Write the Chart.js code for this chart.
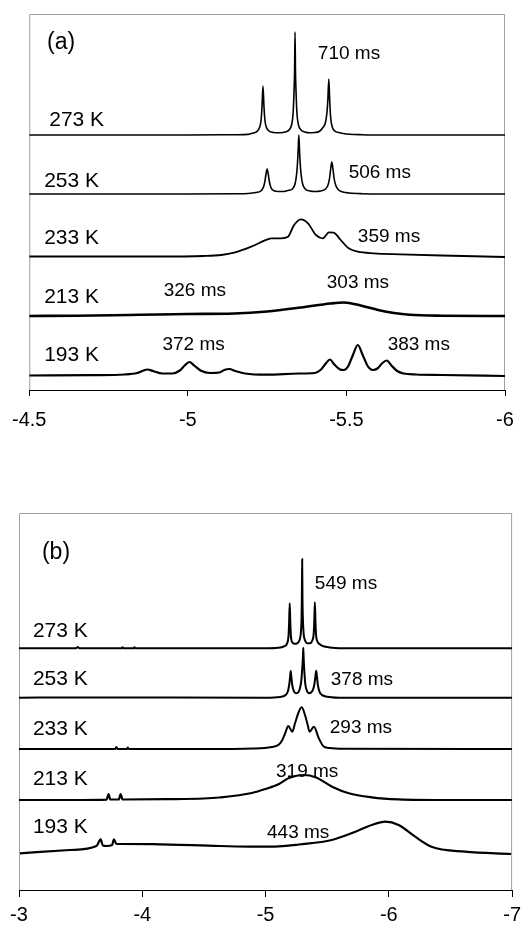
<!DOCTYPE html>
<html>
<head>
<meta charset="utf-8">
<script src="https://cdn.jsdelivr.net/npm/chart.js@4.4.1/dist/chart.umd.min.js"></script>
<style>
  body { margin: 0; background: #fff; }
  #wrap { position: relative; width: 527px; height: 929px; }
  canvas { position: absolute; left: 0; }
  #chartA { top: 0; }
  #chartB { top: 450px; }
</style>
</head>
<body>
<div id="wrap">
  <canvas id="chartA" width="527" height="450"></canvas>
  <canvas id="chartB" width="527" height="479"></canvas>
</div>
<script>
// ---- panel (a): chemical shift (ppm) and intensity above each trace's baseline ----
const tempsA = ['273 K', '253 K', '233 K', '213 K', '193 K'];
const offsetsA = [255, 196, 133.5, 74, 14.5];

const shiftA273 = [-4.5, -4.8, -5.0, -5.15, -5.19, -5.206, -5.218, -5.226, -5.231, -5.234, -5.237, -5.240, -5.243, -5.248, -5.256, -5.27, -5.285,
  -5.300, -5.307, -5.319, -5.327, -5.332, -5.335, -5.3365, -5.338, -5.3395, -5.341, -5.344, -5.349, -5.357, -5.369, -5.385,
  -5.400, -5.414, -5.426, -5.4335, -5.4385, -5.4415, -5.4445, -5.4475, -5.4505, -5.4555, -5.4635, -5.4755, -5.49, -5.51, -5.55, -5.6, -5.8, -6.0];
const intA273 = [0, 0, 0, 0.3, 0.6, 2, 3.5, 7.5, 15, 29, 49, 29, 15, 7.5, 4, 2.5, 2.2,
  2.5, 3, 5, 10, 22, 45, 62, 103, 62, 45, 22, 10, 5, 3, 2.2,
  2.5, 3.5, 7.5, 12, 22, 35, 56, 33, 17, 8, 4, 2.5, 1.5, 0.8, 0.3, 0, 0, 0];

const shiftA253 = [-4.5, -4.8, -5.0, -5.15, -5.19, -5.215, -5.23, -5.238, -5.243, -5.246, -5.250, -5.254, -5.257, -5.262, -5.270, -5.285, -5.30,
  -5.315, -5.330, -5.338, -5.343, -5.346, -5.348, -5.350, -5.352, -5.354, -5.357, -5.362, -5.370, -5.385, -5.40,
  -5.419, -5.434, -5.442, -5.447, -5.450, -5.454, -5.458, -5.461, -5.466, -5.474, -5.489, -5.51, -5.55, -5.6, -5.8, -6.0];
const intA253 = [0, 0, 0, 0.2, 0.5, 1.5, 3, 6.5, 12.5, 19, 25, 19, 12.5, 6.5, 3.5, 2.5, 2.5,
  3.5, 5, 10, 20, 32, 45, 59, 45, 32, 20, 10, 5, 3, 2.5,
  3, 5, 9, 16, 24, 32, 24, 16, 9, 4.5, 2, 1, 0.3, 0, 0, 0];

const shiftA233 = [-4.5, -4.9, -5.05, -5.106, -5.146, -5.200, -5.241, -5.263, -5.294, -5.316, -5.335, -5.357, -5.379, -5.404, -5.426,
  -5.445, -5.460, -5.482, -5.507, -5.536, -5.586, -5.670, -5.8, -6.0];
const intA233 = [0, 0, 0.5, 1.5, 3.8, 9.8, 15.8, 18.2, 18.2, 19.8, 31.5, 37.2, 33.2, 21.5, 18.2,
  24.2, 23.8, 16.5, 8.2, 4.8, 3.2, 2.2, 1, -0.5];

const shiftA213 = [-4.5, -4.65, -4.85, -5.0, -5.146, -5.25, -5.357, -5.45, -5.492, -5.545, -5.6, -5.65, -5.70, -5.8, -6.0];
const intA213 = [0, 0.3, 1.2, 2, 2.5, 4.5, 8.5, 12.5, 13.5, 10.5, 6, 3, 1.2, 0.3, 0];

const shiftA193 = [-4.5, -4.7, -4.8, -4.84, -4.86, -4.873, -4.89, -4.92, -4.95, -4.975, -4.99, -5.005, -5.02, -5.04, -5.07, -5.10, -5.115, -5.131, -5.15, -5.18,
  -5.25, -5.35, -5.40, -5.42, -5.435, -5.448, -5.462, -5.48, -5.492, -5.505, -5.52, -5.536, -5.552, -5.568, -5.583, -5.598, -5.612, -5.627, -5.642, -5.66,
  -5.68, -5.72, -5.8, -6.0];
const intA193 = [0, 0.3, 1, 2.5, 5, 6, 4.5, 2, 2, 5, 10, 13.5, 10, 5, 2.5, 3, 5.5, 6.5, 4.5, 2,
  0.8, 2, 2.5, 6, 12, 16, 11, 6, 5.5, 9, 20, 30.5, 20, 9, 5.5, 7, 12, 15, 10, 4.5,
  2, 1, 0.5, -0.5];

const msTextA = ['710 ms', '506 ms', '359 ms', '326 ms', '303 ms', '372 ms', '383 ms'];
const msXA = [-5.410, -5.507, -5.536, -4.924, -5.438, -4.920, -5.630];
const msYA = [331, 212, 148, 94, 102, 40, 40];
const tempXA = [-4.563, -4.547, -4.547, -4.547, -4.547];
const tempYA = [264, 203, 146, 87, 29];

// ---- panel (b) ----
const tempsB = ['273 K', '253 K', '233 K', '213 K', '193 K'];
const offsetsB = [241.7, 192.3, 141, 90, 36];

const shiftB273 = [-3.0, -3.46, -3.477, -3.49, -3.83, -3.84, -3.85, -3.93, -3.937, -3.945, -5.0, -5.10, -5.15, -5.175, -5.186, -5.191, -5.196, -5.201, -5.206, -5.217, -5.235,
  -5.255, -5.275, -5.286, -5.292, -5.2945, -5.297, -5.2995, -5.302, -5.308, -5.32, -5.34,
  -5.36, -5.38, -5.39, -5.395, -5.400, -5.405, -5.41, -5.42, -5.44, -5.47, -5.52, -5.6, -7.0];
const intB273 = [0, 0, 1.2, 0, 0, 1, 0, 0, 1, 0, 0, 0.5, 2, 5, 12, 25, 45, 25, 12, 6, 4.5,
  5, 8, 15, 30, 50, 89, 50, 33, 16, 8, 5,
  5, 8, 14, 26, 46, 26, 13, 7, 4, 2, 0.8, 0, 0];

const shiftB253 = [-3.0, -3.5, -5.0, -5.12, -5.16, -5.18, -5.192, -5.199, -5.204, -5.209, -5.216, -5.228, -5.245,
  -5.262, -5.278, -5.29, -5.298, -5.303, -5.306, -5.309, -5.314, -5.322, -5.335, -5.35,
  -5.368, -5.385, -5.397, -5.405, -5.411, -5.417, -5.424, -5.437, -5.455, -5.48, -5.53, -5.6, -7.0];
const intB253 = [0, 0.3, 0, 0.8, 2.5, 6, 13, 21, 26.7, 21, 13, 7, 4.5,
  5, 9, 17, 30, 40, 50, 40, 28, 14, 7, 4.5,
  5, 8, 14, 22, 27, 21, 13, 6, 3, 1.5, 0.5, 0, 0];

const shiftB233 = [-3.0, -3.5, -3.78, -3.789, -3.80, -3.875, -3.883, -3.89, -4.5, -4.9, -5.05, -5.109, -5.136, -5.16, -5.184, -5.217,
  -5.239, -5.266, -5.293, -5.32, -5.34, -5.357, -5.392, -5.432, -5.473, -5.52, -5.6, -7.0];
const intB233 = [0, 0, 0, 2, 0, 0, 1.5, 0, 0, 0.5, 2, 4.5, 9, 16, 23, 17.3,
  25.7, 36, 41.7, 34, 25, 17.3, 22.3, 10.7, 2.3, 1, 0.3, 0];

const shiftB213 = [-3.0, -3.5, -3.71, -3.727, -3.74, -3.81, -3.824, -3.84, -4.2, -4.5, -4.624, -4.89, -5.0, -5.109, -5.19, -5.311,
  -5.406, -5.540, -5.675, -5.861, -6.079, -6.5, -7.0];
const intB213 = [0, 0, 0.3, 6, 0.5, 0.5, 6, 0.5, 0.8, 1.5, 2.5, 7, 11, 16, 22, 25,
  22.7, 13.3, 6.7, 2.7, 0.7, 0, 0];

const shiftB193 = [-3.008, -3.412, -3.628, -3.663, -3.68, -3.709, -3.755, -3.770, -3.79, -3.816, -4.083, -4.624, -4.9, -5.109, -5.271,
  -5.537, -5.729, -5.861, -5.971, -6.079, -6.214, -6.346, -6.618, -6.992];
const intB193 = [0.7, 4, 8, 14.7, 8.5, 8, 9, 14.7, 10, 10, 9.8, 8, 7.3, 7.6, 9.5,
  14, 22.3, 29, 32.3, 29, 17.3, 7.3, 2.3, 0];

const msTextB = ['549 ms', '378 ms', '293 ms', '319 ms', '443 ms'];
const msXB = [-5.400, -5.529, -5.521, -5.085, -5.012];
const msYB = [301, 205, 157, 113, 52];
const tempXB = [-3.113, -3.113, -3.113, -3.113, -3.113];
const tempYB = [253, 205, 155, 105, 57];

const FONT = "'Liberation Sans', Arial, sans-serif";

function trace(shifts, ints, offset, width) {
  return {
    data: shifts.map((s, i) => ({ x: s, y: ints[i] + offset })),
    showLine: true,
    borderColor: '#000',
    borderWidth: width,
    pointRadius: 0,
    fill: false,
    cubicInterpolationMode: 'monotone'
  };
}

// grey frame behind the traces and the text labels on top of them
function panelPlugin(title, titleX, titleY, temps, tempX, tempY, msText, msX, msY) {
  return {
    id: 'panel',
    beforeDatasetsDraw(chart) {
      const a = chart.chartArea, c = chart.ctx;
      c.save();
      c.strokeStyle = '#a0a0a0';
      c.lineWidth = 1;
      c.beginPath();
      c.moveTo(a.left + 0.5, a.bottom);
      c.lineTo(a.left + 0.5, a.top + 0.5);
      c.lineTo(a.right - 0.5, a.top + 0.5);
      c.lineTo(a.right - 0.5, a.bottom);
      c.stroke();
      c.restore();
    },
    afterDatasetsDraw(chart) {
      const x = chart.scales.x, y = chart.scales.y, c = chart.ctx;
      c.save();
      c.fillStyle = '#000';
      c.textAlign = 'left';
      c.textBaseline = 'alphabetic';
      c.font = '23px ' + FONT;
      c.fillText(title, x.getPixelForValue(titleX), y.getPixelForValue(titleY));
      c.font = '21px ' + FONT;
      temps.forEach((t, i) => c.fillText(t, x.getPixelForValue(tempX[i]), y.getPixelForValue(tempY[i])));
      c.font = '19px ' + FONT;
      msText.forEach((t, i) => c.fillText(t, x.getPixelForValue(msX[i]), y.getPixelForValue(msY[i])));
      c.restore();
    }
  };
}

function makeOptions(xmin, xmax, step, ymax, pad, tickLen, labelPad, axisHeight) {
  return {
    responsive: false,
    animation: false,
    devicePixelRatio: 1,
    layout: { padding: pad },
    plugins: { legend: { display: false }, tooltip: { enabled: false } },
    scales: {
      x: {
        type: 'linear',
        reverse: true,
        min: xmin,
        max: xmax,
        ticks: {
          stepSize: step,
          color: '#000',
          font: { family: FONT, size: 20 },
          padding: labelPad,
          maxRotation: 0,
          autoSkip: false,
          callback: v => String(v)
        },
        grid: { drawOnChartArea: false, drawTicks: true, tickLength: tickLen, color: '#000' },
        border: { color: '#000', width: 1 },
        afterFit(s) { s.height = axisHeight; }
      },
      y: { display: false, min: 0, max: ymax }
    }
  };
}

new Chart(document.getElementById('chartA'), {
  type: 'scatter',
  data: {
    datasets: [
      trace(shiftA273, intA273, offsetsA[0], 1.6),
      trace(shiftA253, intA253, offsetsA[1], 1.6),
      trace(shiftA233, intA233, offsetsA[2], 1.8),
      trace(shiftA213, intA213, offsetsA[3], 2.6),
      trace(shiftA193, intA193, offsetsA[4], 2.2)
    ]
  },
  options: makeOptions(-6, -4.5, 0.5, 376, { left: 27, right: 22, top: 14, bottom: 15 }, 6, 12, 45),
  plugins: [panelPlugin('(a)', -4.556, 341, tempsA, tempXA, tempYA, msTextA, msXA, msYA)]
});

new Chart(document.getElementById('chartB'), {
  type: 'scatter',
  data: {
    datasets: [
      trace(shiftB273, intB273, offsetsB[0], 2),
      trace(shiftB253, intB253, offsetsB[1], 2),
      trace(shiftB233, intB233, offsetsB[2], 2),
      trace(shiftB213, intB213, offsetsB[3], 2.2),
      trace(shiftB193, intB193, offsetsB[4], 2.2)
    ]
  },
  options: makeOptions(-7, -3, 1, 377, { left: 19, right: 13, top: 63, bottom: 1 }, 7, 6, 38),
  plugins: [panelPlugin('(b)', -3.186, 331, tempsB, tempXB, tempYB, msTextB, msXB, msYB)]
});
</script>
</body>
</html>
